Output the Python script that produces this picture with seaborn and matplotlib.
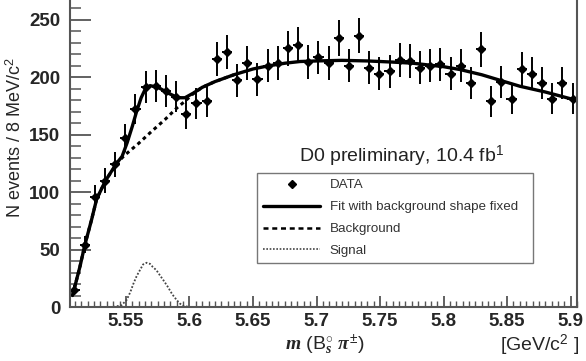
import numpy as np
import seaborn as sns
import matplotlib.pyplot as plt
from matplotlib.ticker import MultipleLocator
from matplotlib.lines import Line2D

# 8 MeV bins, centres from 5.5095 GeV
mass = np.round(5.5095 + 0.008 * np.arange(50), 4)
counts = [15, 54, 96, 110, 124, 147, 172, 191, 192, 188,
          183, 168, 177, 179, 216, 222, 197, 212, 198, 210,
          212, 225, 228, 213, 217, 212, 234, 210, 236, 208,
          203, 205, 215, 214, 208, 210, 211, 203, 210, 195,
          224, 179, 196, 181, 207, 203, 195, 181, 195, 181]

fit_x = [5.508, 5.5138, 5.5177, 5.523, 5.527, 5.534, 5.5427, 5.547, 5.551, 5.555,
         5.5584, 5.562, 5.565, 5.569, 5.5754, 5.5833, 5.591, 5.5965, 5.603, 5.61,
         5.62, 5.635, 5.65, 5.661, 5.675, 5.687, 5.70, 5.72, 5.74, 5.76,
         5.776, 5.80, 5.813, 5.83, 5.842, 5.86, 5.88, 5.902]
fit_y = [10, 35, 54, 76, 94, 110, 125, 131, 143, 157,
         170, 182, 189, 192.5, 191, 186, 182, 182, 186, 191,
         196, 202, 207, 209.5, 212, 213.5, 214, 214.5, 214, 213,
         212, 209, 206.5, 202, 198, 192, 187, 180.5]

bkg_x = [5.508, 5.5138, 5.5177, 5.523, 5.527, 5.534, 5.5437, 5.549, 5.5597, 5.570,
         5.5807, 5.590, 5.5965, 5.603, 5.61, 5.62, 5.635]
bkg_y = [10, 35, 54, 76, 94, 110, 126, 132, 142, 152.5,
         163, 173, 179, 185.5, 191, 196, 202]

sig_x = [5.506, 5.540, 5.5465, 5.5505, 5.5535, 5.5558, 5.5585, 5.561, 5.5635, 5.5663,
         5.569, 5.571, 5.574, 5.5768, 5.580, 5.583, 5.5865, 5.590, 5.5925, 5.595,
         5.600, 5.905]
sig_y = [0, 0, 1.5, 6, 13, 20, 27, 32, 37, 38.5,
         37.5, 35, 32, 27.5, 22.5, 17.5, 11, 6, 3, 1,
         0, 0]

sns.set_style('ticks')
plt.rcParams['font.family'] = ['Liberation Sans', 'DejaVu Sans']
plt.rcParams['mathtext.fontset'] = 'custom'
plt.rcParams['mathtext.rm'] = 'Liberation Sans'
plt.rcParams['mathtext.it'] = 'Liberation Serif:italic:bold'

fig = plt.figure(figsize=(5.86, 3.61), dpi=100)
ax = fig.add_axes([70 / 586, 1 - 307 / 361, 507 / 586, 307 / 361])

sns.lineplot(x=sig_x, y=sig_y, ax=ax, color='#444444', lw=1.3,
             linestyle=(0, (1, 1)), sort=False, estimator=None)
sns.lineplot(x=bkg_x, y=bkg_y, ax=ax, color='black', lw=2.2,
             linestyle=(0, (1.2, 1.2)), sort=False, estimator=None)
sns.lineplot(x=fit_x, y=fit_y, ax=ax, color='black', lw=2.4,
             sort=False, estimator=None)
ax.errorbar(mass, counts, yerr=np.sqrt(counts), xerr=0.004, fmt='D',
            color='black', ms=4.5, elinewidth=1.4, capsize=0)

ax.set_xlim(5.506, 5.905)
ax.set_ylim(0, 267)
ax.xaxis.set_major_locator(MultipleLocator(0.05))
ax.xaxis.set_minor_locator(MultipleLocator(0.005))
ax.yaxis.set_major_locator(MultipleLocator(50))
ax.yaxis.set_minor_locator(MultipleLocator(10))
ax.set_xticks([5.55, 5.6, 5.65, 5.7, 5.75, 5.8, 5.85, 5.9])
ax.set_xticklabels(['5.55', '5.6', '5.65', '5.7', '5.75', '5.8', '5.85', '5.9'])

ax.tick_params(axis='y', which='major', direction='in', length=15, width=1.3,
               color='#555555', labelsize=13.5, pad=7)
ax.tick_params(axis='y', which='minor', direction='in', length=8, width=1.1,
               color='#555555')
ax.tick_params(axis='x', which='major', direction='in', length=8, width=1.3,
               color='#555555', labelsize=13.5, pad=4)
ax.tick_params(axis='x', which='minor', direction='in', length=4, width=1,
               color='#555555')
for lab in ax.get_xticklabels() + ax.get_yticklabels():
    lab.set_fontweight('bold')

ax.spines['top'].set_visible(False)
for s in ['left', 'bottom', 'right']:
    ax.spines[s].set_color('#555555')
    ax.spines[s].set_linewidth(1.5)

ax.set_ylabel('N events / 8 MeV/c$^{2}$', fontsize=13)
ax.yaxis.set_label_coords(-0.088, 0.55)

ax.text(0.655, 0.49, 'D0 preliminary, 10.4 fb$^{1}$', transform=ax.transAxes,
        fontsize=14, ha='center', va='center', color='#222222')

handles = [
    Line2D([], [], color='black', marker='D', ms=4, ls='none'),
    Line2D([], [], color='black', lw=2.4),
    Line2D([], [], color='black', lw=1.8, linestyle=(0, (2, 1.5))),
    Line2D([], [], color='#444444', lw=1.2, linestyle=(0, (1, 1))),
]
labels = ['DATA', 'Fit with background shape fixed', 'Background', 'Signal']
leg = ax.legend(handles, labels, loc='upper left',
                bbox_to_anchor=(0.369, 0.1433, 0.544, 0.2932), mode='expand',
                borderaxespad=0, fontsize=9.6, frameon=True, fancybox=False,
                handlelength=4.3, labelspacing=0.72, borderpad=0.45,
                handletextpad=0.7, labelcolor='#333333')
leg.get_frame().set_edgecolor('#555555')
leg.get_frame().set_linewidth(1.0)

fig.text(325 / 586, 1 - 345 / 361, r'$m$ (B$^{\circ}_{s}$ $\pi^{\pm}$)',
         fontsize=14, ha='center', va='center')
fig.text(540 / 586, 1 - 345 / 361, '[GeV/c$^{2}$ ]', fontsize=14,
         ha='center', va='center')

fig.savefig('out.png', dpi=100)
